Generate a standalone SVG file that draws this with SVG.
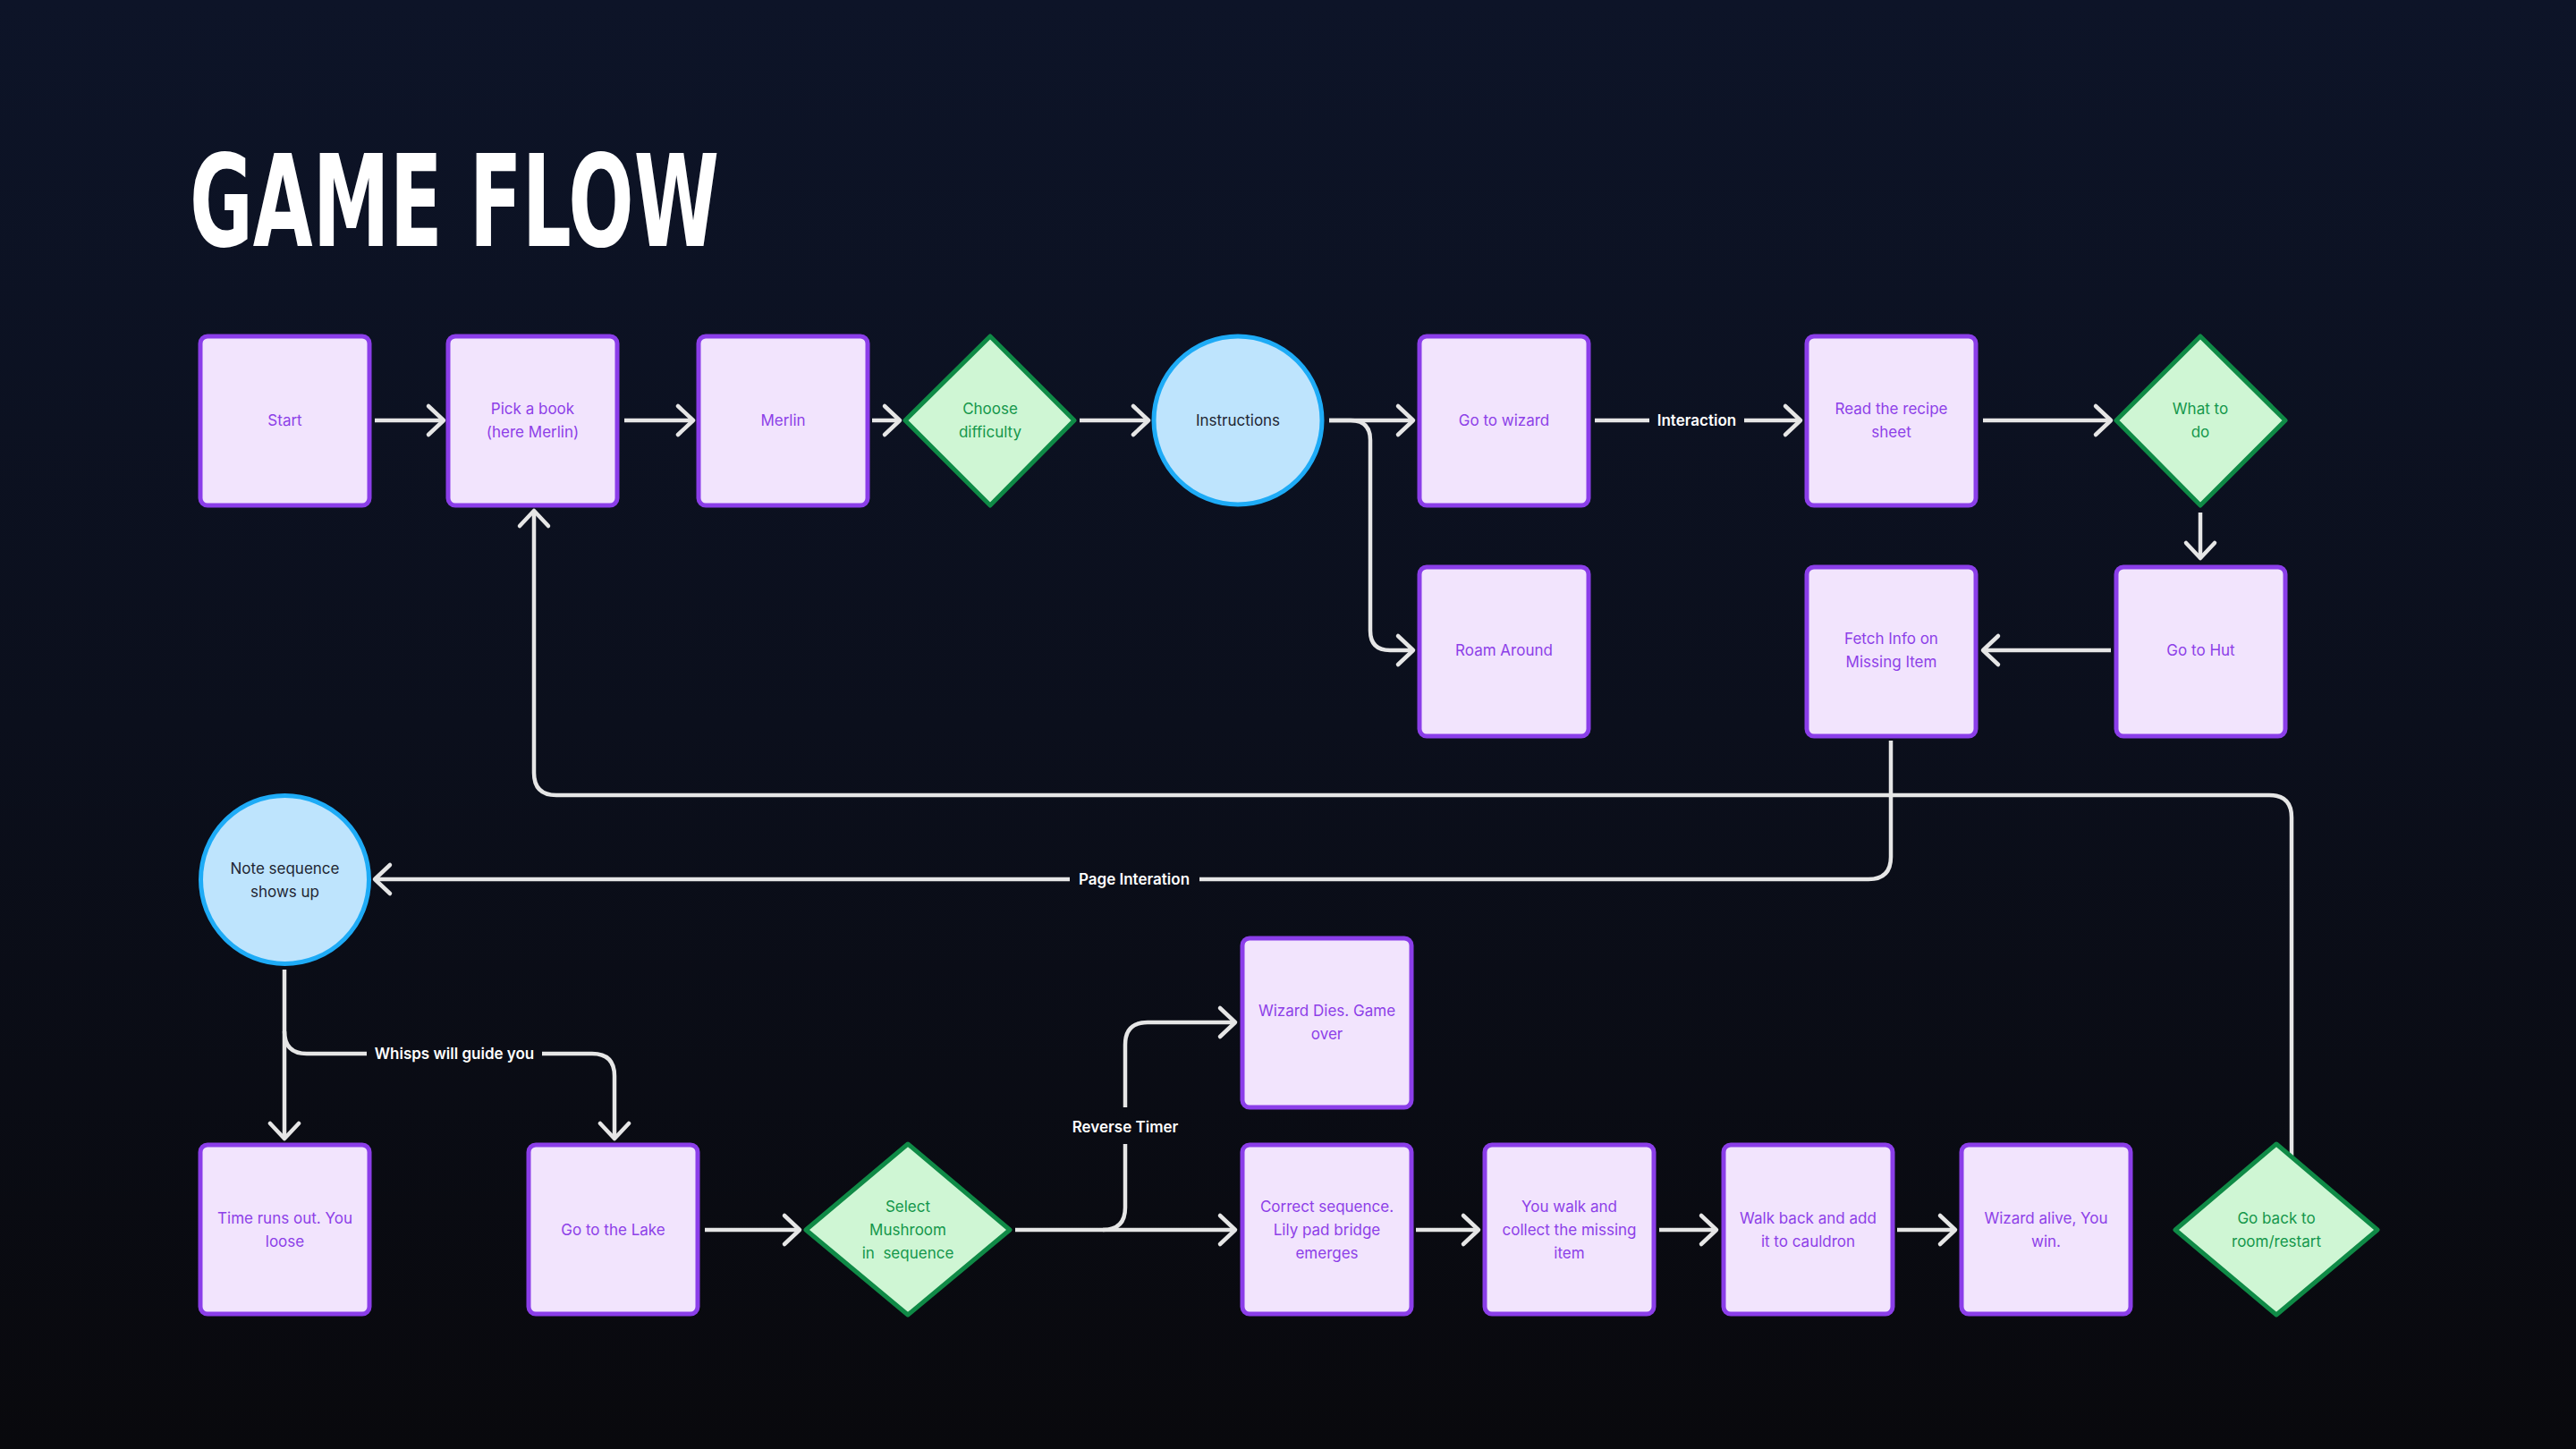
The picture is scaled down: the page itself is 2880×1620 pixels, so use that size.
<svg xmlns="http://www.w3.org/2000/svg" width="2880" height="1620" viewBox="0 0 2880 1620">
<defs>
<linearGradient id="bg" x1="0" y1="0" x2="0" y2="1">
<stop offset="0" stop-color="#0d1428"/>
<stop offset="0.5" stop-color="#0b0f1c"/>
<stop offset="1" stop-color="#09090d"/>
</linearGradient>
<marker id="arr" markerUnits="userSpaceOnUse" viewBox="-22 -20 26 40" refX="0" refY="0" markerWidth="26" markerHeight="40" orient="auto" overflow="visible">
<path d="M-17,-16 L0,0 L-17,16" fill="none" stroke="#e6e6e6" stroke-width="4.5" stroke-linecap="round" stroke-linejoin="round"/>
</marker>
<style>
.box{fill:#f2e4fd;stroke:#8b3ee9;stroke-width:5}
.dia{fill:#cff6d4;stroke:#0f8a46;stroke-width:5;stroke-linejoin:round}
.cir{fill:#bee4fd;stroke:#1eabf6;stroke-width:5}
.t{font-family:Inter,"Noto Sans",sans-serif;font-size:17px;text-anchor:middle}
.tb{fill:#8d3fe8}
.td{fill:#14974b}
.tc{fill:#1f2633}
.lbl{font-family:Inter,"Noto Sans",sans-serif;font-size:17px;font-weight:600;fill:#ffffff;text-anchor:middle}
.c{fill:none;stroke:#e6e6e6;stroke-width:4.5}
.ca{fill:none;stroke:#e6e6e6;stroke-width:4.5;marker-end:url(#arr)}
.title{font-family:"Liberation Sans Narrow","DejaVu Sans Condensed","DejaVu Sans",sans-serif;font-stretch:condensed;font-weight:bold;font-size:142px;fill:#ffffff}
</style>
</defs>
<rect x="0" y="0" width="2880" height="1620" fill="url(#bg)"/>
<text class="title" x="212" y="275" textLength="592" lengthAdjust="spacingAndGlyphs">GAME FLOW</text>

<g id="connectors">
<path class="ca" d="M419,470 H496"/>
<path class="ca" d="M698,470 H775"/>
<path class="ca" d="M975,470 H1006"/>
<path class="ca" d="M1207,470 H1284"/>
<path class="ca" d="M1486,470 H1580"/>
<path class="ca" d="M1486,470 H1510 Q1532,470 1532,492 V705 Q1532,727 1554,727 H1580"/>
<path class="c" d="M1783,470 H1844"/>
<path class="ca" d="M1950,470 H2013"/>
<text class="lbl" x="1897" y="476">Interaction</text>
<path class="ca" d="M2217,470 H2360"/>
<path class="ca" d="M2460,573 V624"/>
<path class="ca" d="M2360,727 H2217"/>
<path class="c" d="M2114,828 V958 Q2114,983 2089,983 H1341"/>
<path class="ca" d="M1196,983 H419"/>
<text class="lbl" x="1268" y="989">Page Interation</text>
<path class="ca" d="M2562,1292 V914 Q2562,889 2537,889 H622 Q597,889 597,864 V571"/>
<path class="ca" d="M318,1084 V1273"/>
<path class="c" d="M318,1153 Q318,1178 343,1178 H410"/>
<path class="ca" d="M606,1178 H662 Q687,1178 687,1203 V1273"/>
<text class="lbl" x="508" y="1184">Whisps will guide you</text>
<path class="ca" d="M788,1375 H894"/>
<path class="ca" d="M1135,1375 H1381"/>
<path class="c" d="M1233,1375 Q1258,1375 1258,1350 V1279"/>
<path class="ca" d="M1258,1238 V1168 Q1258,1143 1283,1143 H1381"/>
<text class="lbl" x="1258" y="1266">Reverse Timer</text>
<path class="ca" d="M1583,1375 H1653"/>
<path class="ca" d="M1855,1375 H1919"/>
<path class="ca" d="M2121,1375 H2186"/>
</g>

<g id="start"><rect class="box" x="224" y="376" width="189" height="189" rx="8"/><text class="t tb" x="318.5" y="476">Start</text></g>
<g id="pick-book"><rect class="box" x="501" y="376" width="189" height="189" rx="8"/><text class="t tb" x="595.5" y="463">Pick a book</text><text class="t tb" x="595.5" y="489">(here Merlin)</text></g>
<g id="merlin"><rect class="box" x="781" y="376" width="189" height="189" rx="8"/><text class="t tb" x="875.5" y="476">Merlin</text></g>
<g id="choose-difficulty"><polygon class="dia" points="1107,376 1201,470 1107,565 1012,470"/><text class="t td" x="1107" y="463">Choose</text><text class="t td" x="1107" y="489">difficulty</text></g>
<g id="instructions"><circle class="cir" cx="1384" cy="470" r="94"/><text class="t tc" x="1384" y="476">Instructions</text></g>
<g id="go-to-wizard"><rect class="box" x="1587" y="376" width="189" height="189" rx="8"/><text class="t tb" x="1681.5" y="476">Go to wizard</text></g>
<g id="roam-around"><rect class="box" x="1587" y="634" width="189" height="189" rx="8"/><text class="t tb" x="1681.5" y="733">Roam Around</text></g>
<g id="read-recipe"><rect class="box" x="2020" y="376" width="189" height="189" rx="8"/><text class="t tb" x="2114.5" y="463">Read the recipe</text><text class="t tb" x="2114.5" y="489">sheet</text></g>
<g id="what-to-do"><polygon class="dia" points="2460,376 2555,470 2460,565 2366,470"/><text class="t td" x="2460" y="463">What to</text><text class="t td" x="2460" y="489">do</text></g>
<g id="go-to-hut"><rect class="box" x="2366" y="634" width="189" height="189" rx="8"/><text class="t tb" x="2460.5" y="733">Go to Hut</text></g>
<g id="fetch-info"><rect class="box" x="2020" y="634" width="189" height="189" rx="8"/><text class="t tb" x="2114.5" y="720">Fetch Info on</text><text class="t tb" x="2114.5" y="746">Missing Item</text></g>
<g id="note-sequence"><circle class="cir" cx="318.5" cy="983.5" r="94"/><text class="t tc" x="318.5" y="977">Note sequence</text><text class="t tc" x="318.5" y="1003">shows up</text></g>
<g id="time-runs-out"><rect class="box" x="224" y="1280" width="189" height="189" rx="8"/><text class="t tb" x="318.5" y="1368">Time runs out. You</text><text class="t tb" x="318.5" y="1394">loose</text></g>
<g id="go-to-lake"><rect class="box" x="591" y="1280" width="189" height="189" rx="8"/><text class="t tb" x="685.5" y="1381">Go to the Lake</text></g>
<g id="select-mushroom"><polygon class="dia" points="1015,1279 1129,1375 1015,1470 901,1375"/><text class="t td" x="1015" y="1355">Select</text><text class="t td" x="1015" y="1381">Mushroom</text><text class="t td" x="1015" y="1407" xml:space="preserve">in  sequence</text></g>
<g id="wizard-dies"><rect class="box" x="1389" y="1049" width="189" height="189" rx="8"/><text class="t tb" x="1483.5" y="1136">Wizard Dies. Game</text><text class="t tb" x="1483.5" y="1162">over</text></g>
<g id="correct-sequence"><rect class="box" x="1389" y="1280" width="189" height="189" rx="8"/><text class="t tb" x="1483.5" y="1355">Correct sequence.</text><text class="t tb" x="1483.5" y="1381">Lily pad bridge</text><text class="t tb" x="1483.5" y="1407">emerges</text></g>
<g id="you-walk"><rect class="box" x="1660" y="1280" width="189" height="189" rx="8"/><text class="t tb" x="1754.5" y="1355">You walk and</text><text class="t tb" x="1754.5" y="1381">collect the missing</text><text class="t tb" x="1754.5" y="1407">item</text></g>
<g id="walk-back"><rect class="box" x="1927" y="1280" width="189" height="189" rx="8"/><text class="t tb" x="2021.5" y="1368">Walk back and add</text><text class="t tb" x="2021.5" y="1394">it to cauldron</text></g>
<g id="wizard-alive"><rect class="box" x="2193" y="1280" width="189" height="189" rx="8"/><text class="t tb" x="2287.5" y="1368">Wizard alive, You</text><text class="t tb" x="2287.5" y="1394">win.</text></g>
<g id="go-back"><polygon class="dia" points="2545,1279 2658,1375 2545,1470 2432,1375"/><text class="t td" x="2545" y="1368">Go back to</text><text class="t td" x="2545" y="1394">room/restart</text></g>
</svg>
